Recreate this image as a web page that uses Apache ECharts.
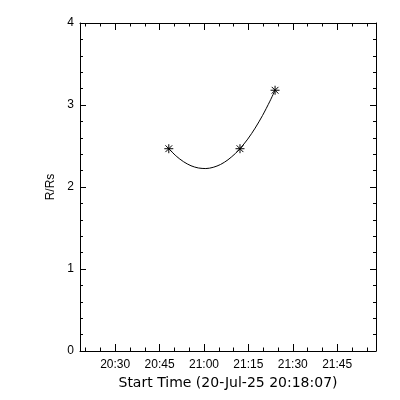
<!DOCTYPE html>
<html>
<head>
<meta charset="utf-8">
<script src="https://cdn.jsdelivr.net/npm/echarts@6/dist/echarts.min.js"></script>
<style>
html,body{margin:0;padding:0;background:#fff;}
#chart{width:400px;height:400px;}
</style>
</head>
<body>
<div id="chart"></div>
<script>
// ---- data ----
const startTime = '20:18:07';
const endTime = '21:58:07';
const obsTimes = ['20:48:07', '21:12:10', '21:24:01'];
const obsR = [2.467, 2.467, 3.18];
const fitTimes = ['20:48:07', '20:50:37', '20:53:07', '20:55:37', '20:58:07', '21:00:37', '21:03:07', '21:05:37',
                  '21:08:07', '21:10:37', '21:12:10', '21:14:47', '21:17:17', '21:19:47', '21:22:17', '21:24:01'];
const fitR = [2.467, 2.377, 2.308, 2.259, 2.232, 2.225, 2.240, 2.275, 2.332, 2.409, 2.467, 2.584, 2.718, 2.872, 3.047, 3.18];
const majorTickLabels = ['20:30', '20:45', '21:00', '21:15', '21:30', '21:45'];
const minorTickLabels = ['20:20', '20:25', '20:35', '20:40', '20:50', '20:55', '21:05', '21:10', '21:20', '21:25', '21:35', '21:40', '21:50', '21:55'];
const xTitle = 'Start Time (20-Jul-25 20:18:07)';
const yTitle = 'R/Rs';

// minutes since 20:00
function toMin(t) {
  const p = t.split(':').map(Number);
  return (p[0] - 20) * 60 + p[1] + (p[2] || 0) / 60;
}
function fmt(v) {
  const total = Math.round(v);
  const h = 20 + Math.floor(total / 60);
  const m = total % 60;
  return String(h).padStart(2, '0') + ':' + String(m).padStart(2, '0');
}

const xMin = toMin(startTime), xMax = toMin(endTime);
const majorVals = majorTickLabels.map(toMin);
const minorVals = minorTickLabels.map(toMin);

const black = '#000';
const tickFont = 'Liberation Sans';

function xAx(pos, vals, len, withLine, withLabel) {
  return {
    type: 'value', position: pos, min: xMin, max: xMax,
    axisLine: { show: withLine, onZero: false, lineStyle: { color: black, width: 1 } },
    axisTick: { show: true, inside: true, length: len, customValues: vals, lineStyle: { color: black, width: 1 } },
    axisLabel: withLabel ? { show: true, customValues: vals, formatter: fmt, color: black, fontFamily: tickFont, fontSize: 12, margin: 8 } : { show: false },
    splitLine: { show: false },
    name: withLabel ? xTitle : '',
    nameLocation: 'middle', nameGap: 23,
    nameTextStyle: { color: black, fontFamily: 'DejaVu Sans', fontSize: 14 }
  };
}
function yAx(pos, withLabel) {
  return {
    type: 'value', position: pos, min: 0, max: 4, interval: 1,
    axisLine: { show: true, onZero: false, lineStyle: { color: black, width: 1 } },
    axisTick: { show: true, inside: true, length: 6, lineStyle: { color: black, width: 1 } },
    minorTick: { show: true, splitNumber: 5, length: 3, lineStyle: { color: black, width: 1 } },
    axisLabel: withLabel ? { show: true, color: black, fontFamily: tickFont, fontSize: 12, margin: 6 } : { show: false },
    splitLine: { show: false },
    minorSplitLine: { show: false },
    name: withLabel ? yTitle : '',
    nameLocation: 'middle', nameGap: 22, nameRotate: 90,
    nameTextStyle: { color: black, fontFamily: tickFont, fontSize: 12 }
  };
}

const chart = echarts.init(document.getElementById('chart'), null, { renderer: 'canvas' });
chart.setOption({
  backgroundColor: '#fff',
  animation: false,
  grid: { left: 80, top: 23, width: 296, height: 328, containLabel: false },
  xAxis: [
    xAx('bottom', majorVals, 7, true, true),
    xAx('bottom', minorVals, 3.5, false, false),
    xAx('top', majorVals, 7, true, false),
    xAx('top', minorVals, 3.5, false, false)
  ],
  yAxis: [yAx('left', true), yAx('right', false)],
  series: [
    {
      type: 'line', xAxisIndex: 0, yAxisIndex: 0,
      data: fitTimes.map((t, i) => [toMin(t), fitR[i]]),
      smooth: 0.3, showSymbol: false, symbol: 'none',
      lineStyle: { color: black, width: 1 }
    },
    {
      type: 'scatter', xAxisIndex: 0, yAxisIndex: 0,
      data: obsTimes.map((t, i) => [toMin(t), obsR[i]]),
      symbol: 'path://M0,-4L0,4M-4,0L4,0M-3,-3L3,3M-3,3L3,-3',
      symbolSize: 9,
      itemStyle: { color: 'rgba(0,0,0,0)', borderColor: black, borderWidth: 1, opacity: 1 }
    }
  ]
});
</script>
</body>
</html>
